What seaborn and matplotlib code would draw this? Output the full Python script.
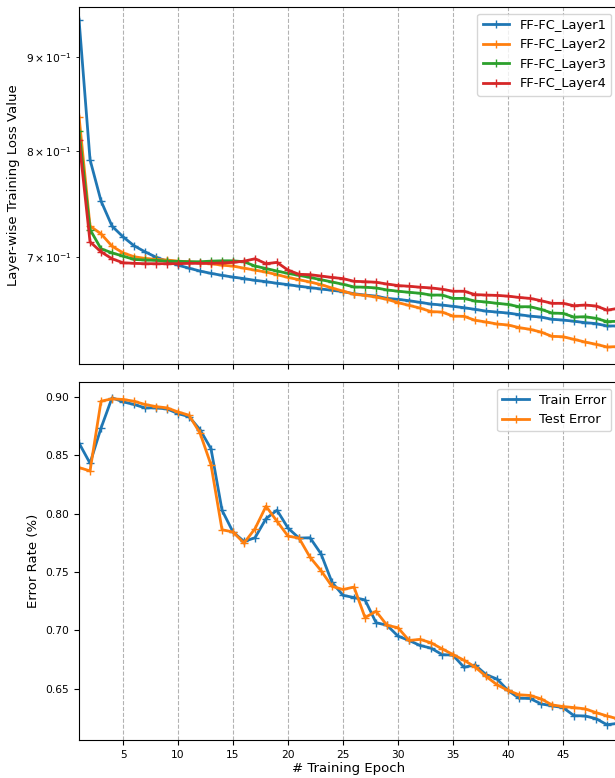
import numpy as np
import pandas as pd
import matplotlib
matplotlib.use('Agg')
import matplotlib.pyplot as plt
import seaborn as sns

plt.style.use('default')

epochs = list(range(1, 51))

# layer-wise training loss
layer1 = [0.943, 0.791, 0.751, 0.7277, 0.718, 0.710, 0.7046, 0.6999, 0.6964, 0.6929,
          0.6903, 0.6878, 0.6858, 0.6841, 0.6826, 0.6813, 0.6798, 0.6787, 0.6773, 0.6762,
          0.6748, 0.6737, 0.6725, 0.6714, 0.6703, 0.6685, 0.6674, 0.6665, 0.6646, 0.6638,
          0.6627, 0.6613, 0.6599, 0.6591, 0.6580, 0.6569, 0.6555, 0.6541, 0.6533, 0.6525,
          0.6512, 0.6500, 0.6492, 0.6474, 0.6468, 0.6458, 0.6447, 0.6439, 0.6420, 0.6420]
layer2 = [0.835, 0.7277, 0.7207, 0.7096, 0.7037, 0.7003, 0.6988, 0.6979, 0.6974, 0.6964,
          0.6959, 0.6950, 0.6942, 0.6929, 0.6921, 0.6903, 0.6886, 0.6869, 0.6847, 0.6823,
          0.6804, 0.6784, 0.6762, 0.6733, 0.6707, 0.6680, 0.6671, 0.6657, 0.6638, 0.6611,
          0.6588, 0.6566, 0.6537, 0.6533, 0.6500, 0.6498, 0.6466, 0.6452, 0.6436, 0.6428,
          0.6407, 0.6393, 0.6371, 0.6337, 0.6334, 0.6313, 0.6292, 0.6274, 0.6253, 0.6256]
layer3 = [0.820, 0.7246, 0.7073, 0.7037, 0.7008, 0.6979, 0.6974, 0.6971, 0.6964, 0.6962,
          0.6959, 0.6959, 0.6964, 0.6967, 0.6967, 0.6959, 0.6921, 0.6900, 0.6878, 0.6858,
          0.6841, 0.6823, 0.6804, 0.6784, 0.6765, 0.6742, 0.6740, 0.6734, 0.6717, 0.6706,
          0.6697, 0.6689, 0.6674, 0.6674, 0.6646, 0.6646, 0.6624, 0.6616, 0.6605, 0.6596,
          0.6577, 0.6577, 0.6555, 0.6525, 0.6522, 0.6492, 0.6495, 0.6482, 0.6455, 0.6458]
layer4 = [0.811, 0.7135, 0.7046, 0.6985, 0.6950, 0.6945, 0.6942, 0.6942, 0.6942, 0.6942,
          0.6945, 0.6945, 0.6945, 0.6948, 0.6953, 0.6964, 0.6985, 0.6942, 0.6953, 0.6886,
          0.6850, 0.6847, 0.6835, 0.6823, 0.6813, 0.6790, 0.6787, 0.6782, 0.6767, 0.6754,
          0.6748, 0.6740, 0.6734, 0.6723, 0.6706, 0.6706, 0.6678, 0.6674, 0.6671, 0.6665,
          0.6654, 0.6646, 0.6627, 0.6605, 0.6605, 0.6585, 0.6591, 0.6583, 0.6549, 0.6563]

# error rates
train_error = [0.8606, 0.8433, 0.8735, 0.8994, 0.896, 0.8937, 0.8908, 0.8908, 0.8899, 0.8859,
               0.8833, 0.8721, 0.8557, 0.803, 0.7843, 0.7762, 0.7794, 0.7958, 0.803, 0.7877,
               0.7791, 0.7794, 0.7656, 0.7411, 0.730, 0.7281, 0.7261, 0.7066, 0.7043, 0.695,
               0.6913, 0.687, 0.6847, 0.6792, 0.6786, 0.6683, 0.6703, 0.662, 0.6582, 0.6484,
               0.6418, 0.6415, 0.6369, 0.6352, 0.6337, 0.6268, 0.6265, 0.6242, 0.619, 0.6202]
test_error = [0.8396, 0.8367, 0.8965, 0.8986, 0.898, 0.8965, 0.8937, 0.8919, 0.8908, 0.8873,
              0.8845, 0.8692, 0.8419, 0.7863, 0.7843, 0.7748, 0.7872, 0.8064, 0.7935, 0.7808,
              0.7791, 0.7627, 0.7512, 0.7377, 0.735, 0.7371, 0.7109, 0.7163, 0.7043, 0.7022,
              0.6913, 0.6922, 0.6893, 0.6841, 0.6792, 0.6743, 0.6686, 0.6605, 0.6533, 0.6484,
              0.6447, 0.6441, 0.6412, 0.636, 0.6346, 0.6337, 0.6326, 0.6294, 0.6265, 0.624]

layer_names = ['FF-FC_Layer1', 'FF-FC_Layer2', 'FF-FC_Layer3', 'FF-FC_Layer4']
error_names = ['Train Error', 'Test Error']
colors = sns.color_palette('tab10')

plt.rcParams['xtick.labelsize'] = 7.7
plt.rcParams['ytick.labelsize'] = 7.7
plt.rcParams['axes.labelsize'] = 9.5
plt.rcParams['legend.fontsize'] = 9.4
plt.rcParams['axes.linewidth'] = 0.8

fig = plt.figure(figsize=(6.15, 7.78), dpi=100)
# axes run slightly past the right edge, like the cropped original
ax1 = fig.add_axes([0.1285, 0.532, 0.8764, 0.459])
ax2 = fig.add_axes([0.1285, 0.049, 0.8764, 0.460], sharex=ax1)

for i, (name, vals) in enumerate(zip(layer_names, [layer1, layer2, layer3, layer4])):
    sns.lineplot(x=epochs, y=vals, ax=ax1, label=name, color=colors[i],
                 marker='+', markersize=6, mec=colors[i], mew=1, linewidth=2)

for i, (name, vals) in enumerate(zip(error_names, [train_error, test_error])):
    sns.lineplot(x=epochs, y=vals, ax=ax2, label=name, color=colors[i],
                 marker='+', markersize=6, mec=colors[i], mew=1, linewidth=2)

ax1.set_yscale('log')
ax1.set_ylim(0.612, 0.958)
ax1.set_ylabel('Layer-wise Training Loss Value')
ax1.tick_params(labelbottom=False)

ax2.set_ylim(0.606, 0.913)
ax2.set_xlim(1, 50)
ax2.set_xticks(range(5, 50, 5))
ax2.set_ylabel('Error Rate (%)')
ax2.set_xlabel('# Training Epoch', labelpad=2)

for ax in (ax1, ax2):
    ax.grid(axis='x', linestyle='--', color='gray', alpha=0.6)
    ax.legend(loc='upper right')

fig.savefig('out.png', dpi=100)
